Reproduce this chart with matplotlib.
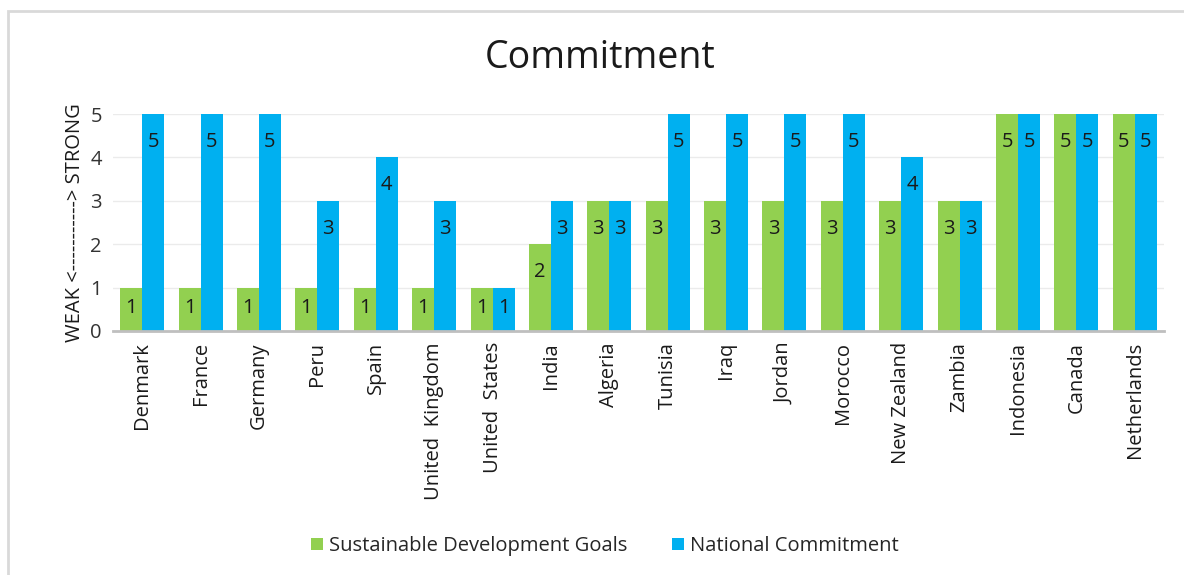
import numpy as np
import matplotlib.pyplot as plt
from matplotlib.patches import Rectangle

plt.rcParams['font.family'] = ['Open Sans', 'DejaVu Sans']

countries = ['Denmark', 'France', 'Germany', 'Peru', 'Spain', 'United  Kingdom',
             'United  States', 'India', 'Algeria', 'Tunisia', 'Iraq', 'Jordan',
             'Morocco', 'New Zealand', 'Zambia', 'Indonesia', 'Canada', 'Netherlands']
sdg = [1, 1, 1, 1, 1, 1, 1, 2, 3, 3, 3, 3, 3, 3, 3, 5, 5, 5]
national = [5, 5, 5, 3, 4, 3, 1, 3, 3, 5, 5, 5, 5, 4, 3, 5, 5, 5]

green = '#92D050'
blue = '#00B0F0'

fig = plt.figure(figsize=(11.84, 5.75), dpi=100)
# chart frame (left and top edge visible)
fig.patches.append(Rectangle((8 / 1184, -0.1), 1.2, 1.1 - 11 / 575,
                             transform=fig.transFigure, fill=False,
                             edgecolor='#D9D9D9', linewidth=2))

ax = fig.add_axes([113 / 1184, 1 - 331 / 575, (1164 - 113) / 1184, (331 - 114) / 575])

x = np.arange(len(countries))
w = 0.377
b1 = ax.bar(x - w / 2, sdg, w, color=green, zorder=3)
b2 = ax.bar(x + w / 2, national, w, color=blue, zorder=3)

# labels near inside end of each bar
for bars, vals in [(b1, sdg), (b2, national)]:
    for rect, v in zip(bars, vals):
        ypos = max(v - 0.64, 0.52)
        ax.text(rect.get_x() + rect.get_width() / 2, ypos, str(v),
                ha='center', va='center', fontsize=14.5, color='#1a1a1a', zorder=4)

ax.set_xlim(-0.5, len(countries) - 0.5)
ax.set_ylim(0, 5)
ax.set_yticks(range(6))
ax.set_xticks(x)
ax.set_xticklabels(countries, rotation=90, fontsize=14.5, color='#1a1a1a')
ax.tick_params(axis='y', labelsize=14.5, labelcolor='#333333', length=0, pad=8)
ax.tick_params(axis='x', length=0, pad=8)
ax.yaxis.grid(True, color='#EBEBEB', linewidth=1, zorder=0)
for s in ['top', 'right', 'left']:
    ax.spines[s].set_visible(False)
ax.spines['bottom'].set_color('#BFBFBF')
ax.spines['bottom'].set_linewidth(2)
ax.spines['bottom'].set_zorder(5)

ax.set_ylabel('WEAK <-----------> STRONG', fontsize=14.5, color='#1a1a1a', labelpad=4)
fig.text(600 / 1184, 1 - 58 / 575, 'Commitment', ha='center', va='center',
         fontsize=27, color='#1a1a1a')

ax.legend([b1, b2], ['Sustainable Development Goals', 'National Commitment'],
          loc='center', bbox_to_anchor=(605 / 1184, 1 - 546 / 575),
          bbox_transform=fig.transFigure, ncol=2, frameon=False, fontsize=14.5,
          handlelength=0.6, handleheight=0.6, handletextpad=0.3, columnspacing=2.2,
          labelcolor='#262626')

fig.savefig('out.png', dpi=100)
